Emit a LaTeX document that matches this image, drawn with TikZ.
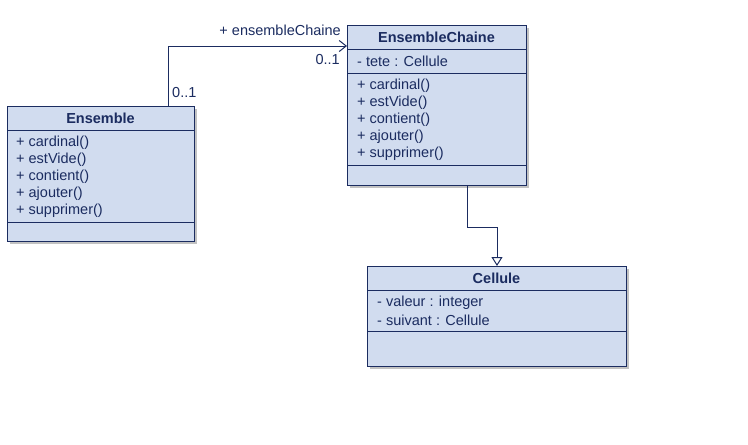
\documentclass[tikz,border=0pt]{standalone}
\usepackage{fontspec}
\setmainfont{Liberation Sans}
\usepackage{tikz}
\usetikzlibrary{arrows.meta, positioning, calc, shadows}
\definecolor{umlfill}{RGB}{209,220,239}
\definecolor{umlline}{RGB}{27,44,96}

\tikzset{
  classbox/.style={draw=umlline, line width=1.2pt, fill=umlfill, anchor=north west, inner sep=0,
    drop shadow={shadow xshift=2pt, shadow yshift=-2pt, fill=black!40, opacity=0.6}},
  member/.style={anchor=west, inner sep=0, text=umlline},
  title/.style={inner sep=0, text=umlline, font=\fontsize{14.5}{17}\selectfont\bfseries},
  sep/.style={draw=umlline, line width=1pt},
  assoc/.style={draw=umlline, line width=1pt, -{Straight Barb[length=7pt,width=11pt]}},
  gen/.style={draw=umlline, line width=1pt, -{Triangle[open,length=9pt,width=11pt]}}
}

\begin{document}
\begin{tikzpicture}[x=1pt, y=-1pt, font=\fontsize{14.5}{17}\selectfont]

\useasboundingbox (0,0) rectangle (748,445);

% Ensemble
\node[classbox, minimum width=187pt, minimum height=135pt] (ens) at (7,106) {};
\draw[sep] ($(ens.north west)+(0,24)$) -- ++(187,0);
\draw[sep] ($(ens.north west)+(0,116)$) -- ++(187,0);
\node[title] (enst) at (100.5,118) {Ensemble};
\node[member] (ensm1) at (16,143) {+ cardinal()};
\node[member] (ensm2) at (16,160) {+ estVide()};
\node[member] (ensm3) at (16,177) {+ contient()};
\node[member] (ensm4) at (16,194) {+ ajouter()};
\node[member] (ensm5) at (16,211) {+ supprimer()};

% EnsembleChaine
\node[classbox, minimum width=179pt, minimum height=160pt] (chn) at (347,25) {};
\draw[sep] ($(chn.north west)+(0,24)$) -- ++(179,0);
\draw[sep] ($(chn.north west)+(0,48)$) -- ++(179,0);
\draw[sep] ($(chn.north west)+(0,140)$) -- ++(179,0);
\node[title] (chnt) at (436.5,37) {EnsembleChaine};
\node[member] (chna1) at (357,61) {- tete : Cellule};
\node[member] (chnm1) at (357,86) {+ cardinal()};
\node[member] (chnm2) at (357,103) {+ estVide()};
\node[member] (chnm3) at (357,120) {+ contient()};
\node[member] (chnm4) at (357,137) {+ ajouter()};
\node[member] (chnm5) at (357,154) {+ supprimer()};

% Cellule
\node[classbox, minimum width=259pt, minimum height=100pt] (cel) at (367,266) {};
\draw[sep] ($(cel.north west)+(0,24)$) -- ++(259,0);
\draw[sep] ($(cel.north west)+(0,65)$) -- ++(259,0);
\node[title] (celt) at (496.5,278) {Cellule};
\node[member] (cela1) at (377,303) {- valeur : integer};
\node[member] (cela2) at (377,320) {- suivant : Cellule};

% association
\coordinate (p1) at ($(ens.north east)+(-27,0)$);
\coordinate (p2) at ($(chn.north west)+(0,21)$);
\draw[assoc] (p1) |- (p2);
\node[member, anchor=east] (role) at (341,30) {+ ensembleChaine};
\node[member, anchor=east] (mult2) at (340,60) {0..1};
\node[member] (mult1) at (172,93) {0..1};

% Cellule link
\coordinate (q1) at ($(chn.south west)+(120,0)$);
\coordinate (q2) at ($(cel.north west)+(130,0)$);
\draw[gen] (q1) -- ++(0,41) -| (q2);

\end{tikzpicture}
\end{document}
